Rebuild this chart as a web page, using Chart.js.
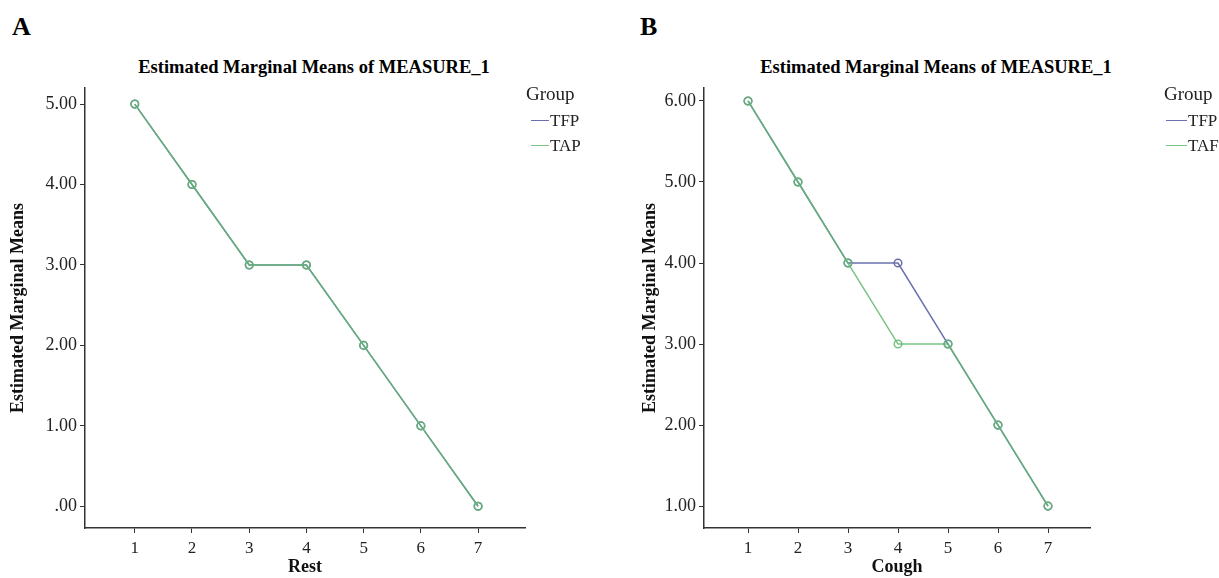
<!DOCTYPE html>
<html>
<head>
<meta charset="utf-8">
<script src="https://cdn.jsdelivr.net/npm/chart.js@4/dist/chart.umd.min.js"></script>
<style>
  body { margin: 0; background: #fff; font-family: "Liberation Serif", serif; }
  #wrap { position: relative; width: 1219px; height: 578px; overflow: hidden; }
  .panel { position: absolute; top: 0; height: 578px; }
  .letter { position: absolute; top: 12px; font-size: 26px; font-weight: bold; }
  .title { position: absolute; top: 57px; font-size: 18.5px; font-weight: bold; white-space: nowrap; transform: translateX(-50%); }
  .legend { position: absolute; top: 83px; font-size: 19px; color: #222; }
  .legend .row { display: flex; align-items: center; height: 25px; font-size: 17px; }
  .legend .sw { height: 0; border-top: 1.5px solid; margin-right: 1px; }
</style>
</head>
<body>
<div id="wrap">
  <div class="letter" style="left:12px">A</div>
  <div class="letter" style="left:640px">B</div>
  <div class="title" style="left:314px">Estimated Marginal Means of MEASURE_1</div>
  <div class="title" style="left:936px">Estimated Marginal Means of MEASURE_1</div>
  <div class="panel" style="left:0; width:620px"><canvas id="chartA"></canvas></div>
  <div class="panel" style="left:620px; width:599px"><canvas id="chartB"></canvas></div>
  <div class="legend" id="legendA" style="left:526px"></div>
  <div class="legend" id="legendB" style="left:1164px"></div>
</div>
<script>
// 横軸の水準
const levels = [1, 2, 3, 4, 5, 6, 7];

// A: Rest
const restTFP = [5, 4, 3, 3, 2, 1, 0];
const restTAP = [5, 4, 3, 3, 2, 1, 0];
const restTicks = [0, 1, 2, 3, 4, 5];

// B: Cough
const coughTFP = [6, 5, 4, 4, 3, 2, 1];
const coughTAF = [6, 5, 4, 3, 3, 2, 1];
const coughTicks = [1, 2, 3, 4, 5, 6];

const blue = '#6a70ae';
const green = 'rgba(98,186,110,0.85)';
const axisColor = '#333';
const fontFamily = '"Liberation Serif", serif';

function fmt(v) {
    let s = v.toFixed(2);
    return s.startsWith('0') ? s.slice(1) : s; // 0 → ".00"
}

function toPoints(values) {
    return levels.map((x, i) => ({ x: x, y: values[i] }));
}

function makeChart(id, opts) {
    let ctx = document.getElementById(id).getContext('2d');
    return new Chart(ctx, {
        type: 'line',
        data: {
            datasets: opts.series.map((s, i) => ({
                label: s.label,
                data: toPoints(s.values),
                order: opts.series.length - i, // 緑を上に描く
                borderColor: s.color,
                borderWidth: 1.5,
                fill: false,
                tension: 0,
                pointRadius: 3.8,
                pointBorderWidth: 1.5,
                pointBackgroundColor: 'rgba(0,0,0,0)',
                pointBorderColor: s.color
            }))
        },
        options: {
            responsive: true,
            maintainAspectRatio: false,
            animation: false,
            layout: { padding: { top: 88, right: opts.right, left: 0, bottom: 0 } },
            plugins: { legend: { display: false }, tooltip: { enabled: false } },
            scales: {
                x: {
                    type: 'linear',
                    min: opts.xMin, max: opts.xMax,
                    afterBuildTicks: s => { s.ticks = levels.map(v => ({ value: v })); },
                    afterFit: s => { s.height = 50; },
                    border: { color: axisColor, width: 1.5 },
                    grid: { display: true, drawOnChartArea: false, drawTicks: true, tickLength: 5, color: axisColor },
                    ticks: { color: '#222', padding: 5, font: { family: fontFamily, size: 17 } },
                    title: { display: true, text: opts.xTitle, color: '#111', padding: 0,
                             font: { family: fontFamily, size: 18, weight: 'bold' } }
                },
                y: {
                    type: 'linear',
                    min: opts.yMin, max: opts.yMax,
                    afterBuildTicks: s => { s.ticks = opts.yTicks.map(v => ({ value: v })); },
                    afterFit: s => { s.width = opts.yWidth; },
                    border: { color: axisColor, width: 1.5 },
                    grid: { display: true, drawOnChartArea: false, drawTicks: true, tickLength: 5, color: axisColor },
                    ticks: { color: '#222', padding: 3, callback: v => fmt(v), font: { family: fontFamily, size: 18 } },
                    title: { display: true, text: 'Estimated Marginal Means', color: '#111',
                             padding: { top: opts.yTitlePad, bottom: 0 },
                             font: { family: fontFamily, size: 18, weight: 'bold' } }
                }
            }
        }
    });
}

function makeLegend(id, series, indent, swatch) {
    let el = document.getElementById(id);
    let html = '<div style="margin-bottom:3px">Group</div>';
    series.forEach(s => {
        html += '<div class="row" style="margin-left:' + indent + 'px"><span class="sw" style="width:' + swatch +
                'px;border-color:' + s.color + '"></span>' + s.label + '</div>';
    });
    el.innerHTML = html;
}

const seriesA = [
    { label: 'TFP', values: restTFP, color: blue },
    { label: 'TAP', values: restTAP, color: green }
];
const seriesB = [
    { label: 'TFP', values: coughTFP, color: blue },
    { label: 'TAF', values: coughTAF, color: green }
];

makeChart('chartA', {
    series: seriesA, xTitle: 'Rest',
    xMin: 0.13, xMax: 7.82, yMin: -0.27, yMax: 5.2, yTicks: restTicks,
    yWidth: 85, right: 95, yTitlePad: 8
});
makeChart('chartB', {
    series: seriesB, xTitle: 'Cough',
    xMin: 0.12, xMax: 7.84, yMin: 0.73, yMax: 6.16, yTicks: coughTicks,
    yWidth: 84, right: 129, yTitlePad: 20
});
makeLegend('legendA', seriesA, 5, 18);
makeLegend('legendB', seriesB, 2, 21);
</script>
</body>
</html>
